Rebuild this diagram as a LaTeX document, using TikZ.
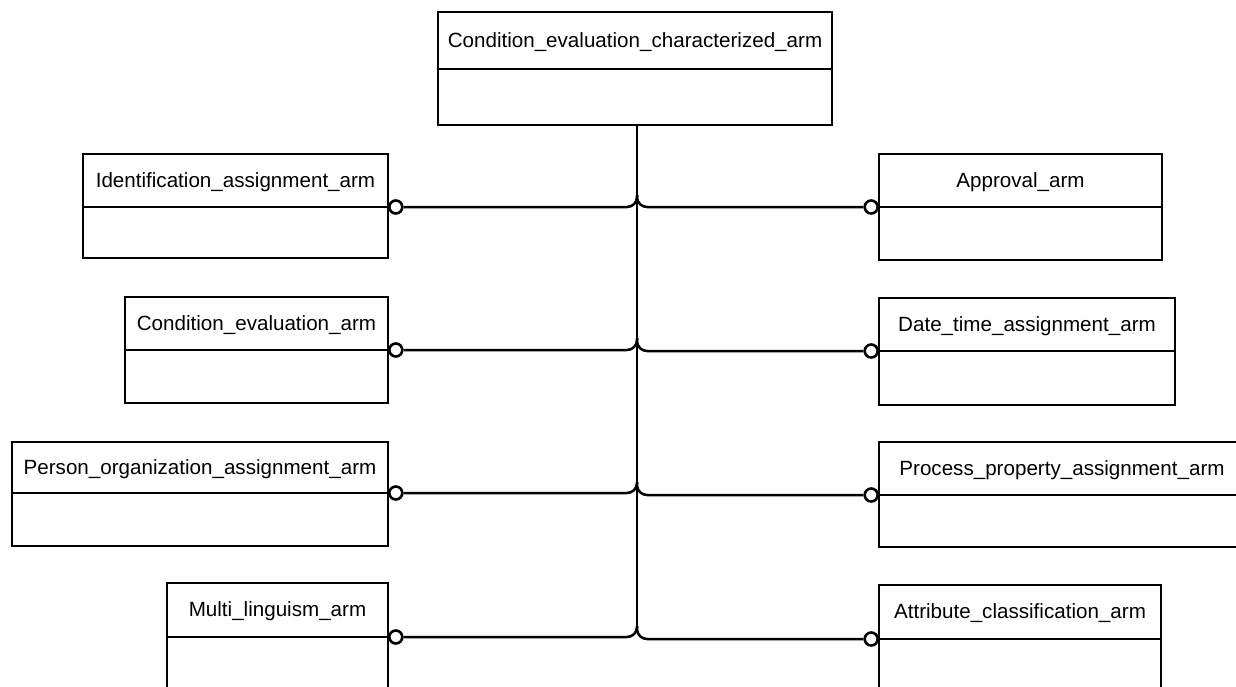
\documentclass[tikz,border=0pt]{standalone}
\usepackage{fontspec}
\setmainfont{Liberation Sans}
\usetikzlibrary{calc}
\tikzset{
  hdr/.style={draw, line width=2.8pt, rectangle, anchor=north west, minimum height=53pt, inner sep=0pt, outer sep=0pt, text height=15pt, text depth=2pt, font=\fontsize{20.6}{24}\selectfont},
  bdy/.style={draw, line width=2.8pt, rectangle, anchor=north, minimum height=53pt, inner sep=0pt, outer sep=0pt},
  port/.style={circle, draw, fill=white, line width=2.6pt, minimum size=13pt, inner sep=0pt},
  conn/.style={line width=2.5pt, rounded corners=10pt},
}
\begin{document}
\begin{tikzpicture}[x=1pt,y=-1pt]
\useasboundingbox[fill=white] (0,0) rectangle (1236,686);
\clip (0,0) rectangle (1236,686);
% top entity
\node[hdr, minimum width=394pt, minimum height=57pt] (top) at (438,12) {Condition\_evaluation\_characterized\_arm};
\node[bdy, minimum width=394pt, minimum height=56pt] (topb) at (top.south) {};
% left entities
\node[hdr, minimum width=305pt] (l1) at (83,154) {Identification\_assignment\_arm};
\node[bdy, minimum width=305pt, minimum height=51pt] (l1b) at (l1.south) {};
\node[hdr, minimum width=263pt] (l2) at (125,297) {Condition\_evaluation\_arm};
\node[bdy, minimum width=263pt] (l2b) at (l2.south) {};
\node[hdr, minimum width=376pt, minimum height=51pt] (l3) at (12,442) {Person\_organization\_assignment\_arm};
\node[bdy, minimum width=376pt] (l3b) at (l3.south) {};
\node[hdr, minimum width=221pt, minimum height=54pt] (l4) at (167,583) {Multi\_linguism\_arm};
\node[bdy, minimum width=221pt, minimum height=60pt] (l4b) at (l4.south) {};
% right entities
\node[hdr, minimum width=283pt] (r1) at (879,154) {Approval\_arm};
\node[bdy, minimum width=283pt] (r1b) at (r1.south) {};
\node[hdr, minimum width=296pt] (r2) at (879,298) {Date\_time\_assignment\_arm};
\node[bdy, minimum width=296pt, minimum height=54pt] (r2b) at (r2.south) {};
\node[hdr, minimum width=366pt] (r3) at (879,442) {Process\_property\_assignment\_arm};
\node[bdy, minimum width=366pt, minimum height=52pt] (r3b) at (r3.south) {};
\node[hdr, minimum width=282pt, minimum height=54pt] (r4) at (879,585) {Attribute\_classification\_arm};
\node[bdy, minimum width=282pt, minimum height=60pt] (r4b) at (r4.south) {};
% junction points on the trunk
\coordinate (j1) at (637,195);
\coordinate (j2) at (637,338);
\coordinate (j3) at (637,482);
\coordinate (j4) at (637,626);
% trunk
\draw[line width=2.5pt] (topb.south -| j1) -- (j4);
% ports
\foreach \i in {1,...,4}{
  \node[port, anchor=west] (pl\i) at (l\i.south east) {};
  \node[port, anchor=east] (pr\i) at (r\i.south west) {};
}
% connectors
\foreach \i in {1,...,4}{
  \draw[conn] (pl\i.east) -| (j\i);
  \draw[conn] (pr\i.west) -| (j\i);
}
\end{tikzpicture}
\end{document}
